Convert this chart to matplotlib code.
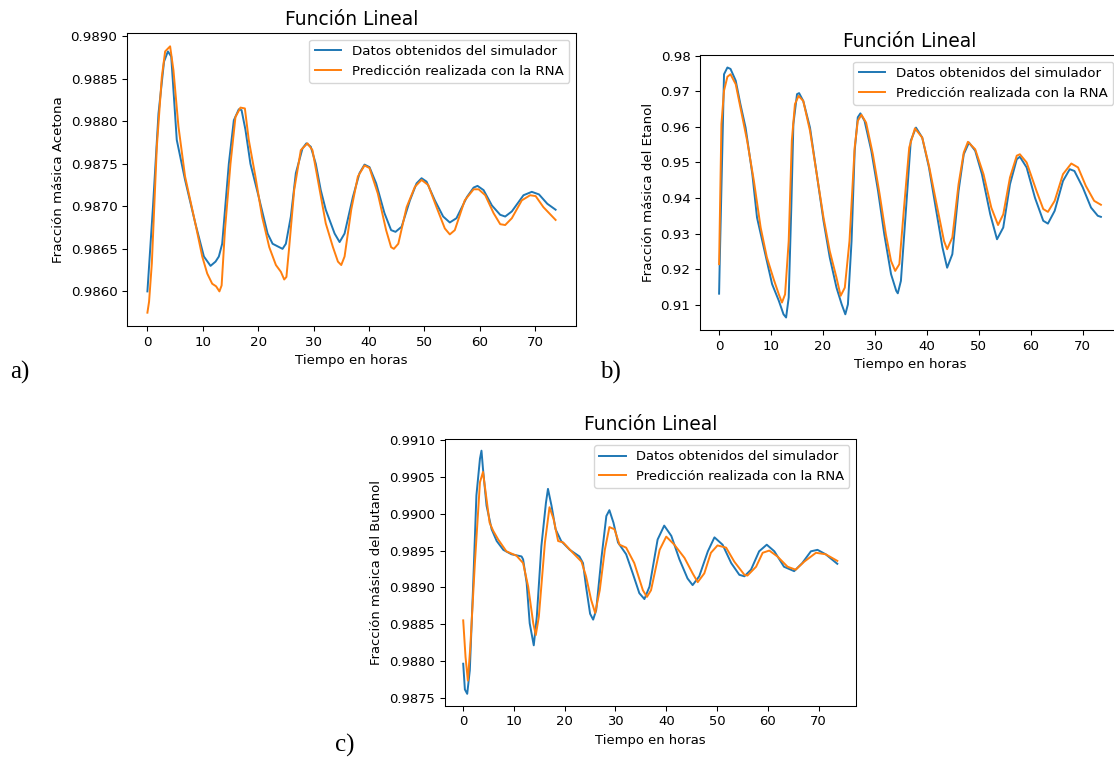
import matplotlib
matplotlib.use("Agg")
import matplotlib.pyplot as plt

# ---- data ----
# a) Acetona
t_a_sim = [0.0, 1.0, 2.0, 3.0, 3.7, 4.3, 5.3, 6.8, 8.65, 10.2, 11.4, 12.3, 12.9, 13.5,
           14.7, 15.6, 16.5, 17.0, 17.7, 18.6, 20.1, 21.7, 22.6, 23.8, 24.4, 25.0, 25.9,
           26.8, 28.0, 28.7, 29.5, 30.4, 31.3, 32.2, 33.8, 34.7, 35.6, 37.1, 38.3, 39.2,
           40.1, 41.3, 42.8, 44.0, 44.8, 45.9, 47.4, 48.6, 49.5, 50.4, 51.9, 53.4, 54.6,
           55.8, 57.7, 58.9, 59.6, 60.7, 62.2, 63.7, 64.6, 65.8, 67.9, 69.4, 70.7, 72.2, 73.7]
v_a_sim = [0.98600, 0.98699, 0.98809, 0.98870, 0.98882, 0.98876, 0.98778, 0.98731, 0.98680,
           0.98641, 0.98630, 0.98635, 0.98641, 0.98656, 0.98750, 0.98801, 0.98814, 0.98813,
           0.98790, 0.98750, 0.98711, 0.98668, 0.98656, 0.98652, 0.98650, 0.98656, 0.98688,
           0.98739, 0.98768, 0.98774, 0.98770, 0.98750, 0.98719, 0.98696, 0.98668, 0.98658,
           0.98668, 0.98711, 0.98739, 0.98749, 0.98746, 0.98727, 0.98692, 0.98672, 0.98670,
           0.98676, 0.98707, 0.98727, 0.98733, 0.98729, 0.98707, 0.98688, 0.98681, 0.98686,
           0.98711, 0.98722, 0.98724, 0.98719, 0.98701, 0.98690, 0.98688, 0.98694, 0.98713,
           0.98717, 0.98714, 0.98703, 0.98696]
t_a_rna = [0.0, 0.3, 0.8, 1.7, 2.6, 3.2, 4.1, 4.7, 5.6, 6.8, 8.65, 9.9, 10.8, 11.7, 12.4,
           13.0, 13.4, 14.0, 15.0, 15.9, 16.8, 17.6, 18.3, 19.5, 20.7, 22.0, 23.2, 24.1,
           24.7, 25.1, 25.6, 26.5, 27.7, 28.9, 29.8, 31.0, 32.2, 33.5, 34.4, 35.0, 35.6,
           36.8, 38.0, 39.2, 40.1, 41.6, 43.1, 44.0, 44.5, 45.3, 46.8, 48.3, 49.5, 50.7,
           52.2, 53.7, 54.6, 55.5, 57.3, 58.9, 59.8, 61.0, 62.5, 63.7, 64.6, 65.8, 67.6,
           69.1, 70.1, 71.5, 73.7]
v_a_rna = [0.98575, 0.98588, 0.98633, 0.98770, 0.98852, 0.98882, 0.98888, 0.98860, 0.98794,
           0.98735, 0.98680, 0.98641, 0.98621, 0.98609, 0.98606, 0.98600, 0.98607, 0.98672,
           0.98750, 0.98805, 0.98816, 0.98815, 0.98778, 0.98735, 0.98688, 0.98652, 0.98631,
           0.98623, 0.98614, 0.98617, 0.98652, 0.98719, 0.98766, 0.98774, 0.98766, 0.98723,
           0.98680, 0.98652, 0.98635, 0.98631, 0.98641, 0.98696, 0.98735, 0.98748, 0.98745,
           0.98715, 0.98672, 0.98652, 0.98650, 0.98656, 0.98699, 0.98723, 0.98731, 0.98725,
           0.98699, 0.98674, 0.98667, 0.98672, 0.98707, 0.98720, 0.98720, 0.98713, 0.98692,
           0.98679, 0.98678, 0.98686, 0.98707, 0.98713, 0.98712, 0.98699, 0.98684]

# b) Etanol
t_b_sim = [0.0, 0.1, 0.95, 1.6, 2.2, 3.2, 4.1, 5.1, 6.4, 7.3, 8.6, 10.2, 11.5, 12.4, 12.9,
           13.4, 13.9, 14.3, 15.0, 15.4, 16.2, 17.5, 18.8, 20.1, 21.3, 22.6, 23.6, 24.3,
           24.8, 25.5, 26.1, 26.7, 27.2, 28.0, 29.3, 30.6, 31.8, 33.1, 34.1, 34.4, 35.0,
           36.0, 36.9, 37.9, 39.1, 40.4, 41.7, 43.0, 43.9, 44.9, 46.1, 47.1, 48.1, 49.3,
           50.6, 52.2, 53.5, 54.7, 56.0, 57.3, 57.9, 59.2, 60.8, 62.4, 63.3, 64.6, 66.2,
           67.5, 68.4, 70.0, 71.6, 72.9, 73.5]
v_b_sim = [0.9131, 0.9204, 0.9748, 0.9767, 0.9763, 0.9730, 0.9664, 0.9598, 0.9467, 0.9345,
           0.9261, 0.9158, 0.9111, 0.9073, 0.9064, 0.9120, 0.9373, 0.9608, 0.9692, 0.9695,
           0.9673, 0.9598, 0.9467, 0.9336, 0.9233, 0.9148, 0.9101, 0.9073, 0.9101, 0.9279,
           0.9533, 0.9627, 0.9638, 0.9617, 0.9533, 0.9420, 0.9298, 0.9186, 0.9139, 0.9132,
           0.9167, 0.9373, 0.9561, 0.9598, 0.9570, 0.9486, 0.9373, 0.9261, 0.9204, 0.9242,
           0.9420, 0.9523, 0.9556, 0.9533, 0.9467, 0.9354, 0.9284, 0.9317, 0.9439, 0.9509,
           0.9516, 0.9486, 0.9401, 0.9336, 0.9328, 0.9364, 0.9448, 0.9481, 0.9476, 0.9430,
           0.9373, 0.9350, 0.9347]
t_b_rna = [0.0, 0.45, 0.95, 1.6, 2.2, 3.2, 4.1, 5.4, 6.7, 8.0, 9.2, 10.5, 11.5, 12.1, 12.7,
           13.4, 14.0, 14.6, 15.3, 16.2, 17.5, 18.8, 20.1, 21.3, 22.6, 23.4, 24.2, 25.1,
           26.1, 26.7, 27.4, 28.3, 29.6, 30.9, 32.1, 33.1, 33.9, 34.7, 35.6, 36.6, 37.7,
           39.1, 40.4, 42.0, 43.3, 43.9, 44.9, 46.1, 47.1, 47.9, 49.3, 50.9, 52.4, 53.7,
           54.7, 56.0, 57.3, 57.9, 59.2, 61.1, 62.4, 63.3, 64.6, 66.2, 67.8, 69.1, 70.6,
           72.2, 73.5]
v_b_rna = [0.9214, 0.9608, 0.9702, 0.9741, 0.9748, 0.9720, 0.9655, 0.9561, 0.9448, 0.9317,
           0.9233, 0.9172, 0.9129, 0.9106, 0.9129, 0.9279, 0.9561, 0.9664, 0.9687, 0.9673,
           0.9589, 0.9467, 0.9345, 0.9251, 0.9176, 0.9125, 0.9148, 0.9279, 0.9542, 0.9617,
           0.9634, 0.9612, 0.9523, 0.9411, 0.9298, 0.9223, 0.9195, 0.9214, 0.9373, 0.9542,
           0.9596, 0.9570, 0.9491, 0.9373, 0.9279, 0.9256, 0.9289, 0.9439, 0.9528, 0.9558,
           0.9537, 0.9467, 0.9373, 0.9324, 0.9354, 0.9458, 0.9519, 0.9523, 0.9500, 0.9420,
           0.9369, 0.9361, 0.9392, 0.9467, 0.9497, 0.9486, 0.9434, 0.9392, 0.9381]

# c) Butanol
t_c_sim = [0.0, 0.33, 0.79, 1.3, 2.0, 2.6, 3.3, 3.6, 3.9, 4.6, 5.6, 6.6, 7.9, 9.5, 11.5,
           11.8, 12.5, 13.1, 13.9, 14.5, 15.4, 16.3, 16.7, 17.4, 18.2, 19.3, 21.0, 22.9,
           23.6, 24.2, 25.0, 25.6, 26.2, 27.2, 28.2, 28.8, 29.6, 30.5, 32.1, 33.4, 34.7,
           35.7, 36.7, 38.3, 39.6, 41.0, 42.6, 44.2, 45.2, 46.5, 48.2, 49.5, 51.1, 52.8,
           54.4, 55.4, 56.7, 58.3, 59.8, 61.3, 63.2, 65.2, 66.8, 68.5, 69.8, 71.4, 73.7]
v_c_sim = [0.98796, 0.98761, 0.98755, 0.98787, 0.98910, 0.99025, 0.99075, 0.99086, 0.99061,
           0.99011, 0.98979, 0.98963, 0.98951, 0.98945, 0.98942, 0.98938, 0.98906, 0.98851,
           0.98821, 0.98860, 0.98956, 0.99015, 0.99034, 0.99011, 0.98979, 0.98963, 0.98951,
           0.98942, 0.98933, 0.98901, 0.98864, 0.98856, 0.98869, 0.98938, 0.98997, 0.99005,
           0.98988, 0.98961, 0.98945, 0.98919, 0.98892, 0.98884, 0.98901, 0.98965, 0.98984,
           0.98970, 0.98938, 0.98912, 0.98903, 0.98915, 0.98949, 0.98968, 0.98958, 0.98933,
           0.98917, 0.98915, 0.98924, 0.98949, 0.98958, 0.98949, 0.98928, 0.98922, 0.98933,
           0.98949, 0.98951, 0.98945, 0.98932]
t_c_rna = [0.0, 0.46, 0.92, 1.4, 2.3, 3.3, 3.9, 4.5, 5.2, 5.9, 6.9, 8.5, 10.5, 11.8, 12.8,
           13.8, 14.3, 14.9, 16.1, 17.0, 17.8, 18.7, 19.7, 21.6, 23.3, 24.2, 25.2, 26.0,
           26.9, 27.9, 28.8, 29.8, 30.8, 32.1, 33.7, 35.4, 36.2, 37.0, 38.7, 40.0, 41.6,
           43.6, 45.2, 46.2, 47.5, 48.8, 50.1, 51.8, 53.4, 55.4, 56.0, 57.7, 59.0, 60.3,
           61.9, 63.9, 65.5, 67.2, 69.5, 71.4, 73.7]
v_c_rna = [0.98855, 0.98805, 0.98773, 0.98819, 0.98933, 0.99043, 0.99057, 0.99025, 0.98988,
           0.98977, 0.98965, 0.98949, 0.98943, 0.98933, 0.98901, 0.98851, 0.98835, 0.98860,
           0.98961, 0.99009, 0.98993, 0.98963, 0.98961, 0.98947, 0.98935, 0.98915, 0.98883,
           0.98865, 0.98896, 0.98951, 0.98982, 0.98979, 0.98958, 0.98954, 0.98933, 0.98896,
           0.98887, 0.98896, 0.98951, 0.98969, 0.98958, 0.98940, 0.98919, 0.98907, 0.98919,
           0.98947, 0.98957, 0.98954, 0.98935, 0.98917, 0.98916, 0.98928, 0.98947, 0.98950,
           0.98942, 0.98928, 0.98924, 0.98935, 0.98947, 0.98945, 0.98936]

labels = ["Datos obtenidos del simulador", "Predicción realizada con la RNA"]
title = "Función Lineal"
xlabel = "Tiempo en horas"

W, H = 1114, 759
fig = plt.figure(figsize=(W / 100, H / 100), dpi=100)


def panel(rect, scale, t1, v1, t2, v2, ylabel, ticks, fmt):
    ax = fig.add_axes(rect)
    fs = 10 * scale * 0.72
    lw = 1.5 * 1.3 * 0.72
    ax.plot(t1, v1, color="#1f77b4", lw=lw, label=labels[0])
    ax.plot(t2, v2, color="#ff7f0e", lw=lw, label=labels[1])
    ax.set_title(title, fontsize=13.4)
    ax.set_xlabel(xlabel, fontsize=fs)
    ax.set_ylabel(ylabel, fontsize=fs)
    ax.set_xticks(range(0, 71, 10))
    ax.set_yticks(ticks)
    ax.set_yticklabels([fmt.format(v) for v in ticks])
    ax.tick_params(labelsize=fs, width=0.8 * scale * 0.72, length=3.5 * scale * 0.72)
    for s in ax.spines.values():
        s.set_linewidth(0.8 * scale * 0.72)
    ax.legend(loc="upper right", fontsize=fs)
    return ax


panel([127 / W, 1 - 326 / H, 449 / W, 293 / H], 1.34, t_a_sim, v_a_sim, t_a_rna, v_a_rna,
      "Fracción másica Acetona",
      [0.9860, 0.9865, 0.9870, 0.9875, 0.9880, 0.9885, 0.9890], "{:.4f}")
panel([700 / W, 1 - 330 / H, 420 / W, 275 / H], 1.34, t_b_sim, v_b_sim, t_b_rna, v_b_rna,
      "Fracción másica del Etanol",
      [0.91, 0.92, 0.93, 0.94, 0.95, 0.96, 0.97, 0.98], "{:.2f}")
panel([444.5 / W, 1 - 706 / H, 411.5 / W, 267.5 / H], 1.31, t_c_sim, v_c_sim, t_c_rna, v_c_rna,
      "Fracción másica del Butanol",
      [0.9875, 0.9880, 0.9885, 0.9890, 0.9895, 0.9900, 0.9905, 0.9910], "{:.4f}")

# panel letters
for txt, x, y in [("a)", 10, 372), ("b)", 600, 372), ("c)", 335, 745)]:
    fig.text(x / W, 1 - y / H, txt, family="Liberation Serif", fontsize=18,
             va="center", ha="left")

fig.savefig("out.png", dpi=100)
